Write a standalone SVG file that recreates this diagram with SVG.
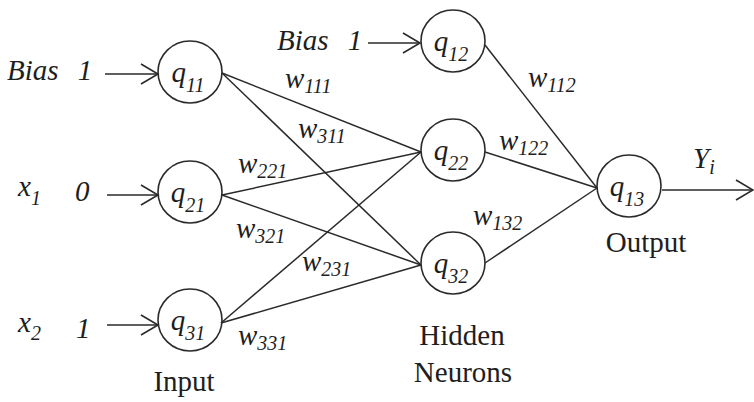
<svg xmlns="http://www.w3.org/2000/svg" width="754" height="402" viewBox="0 0 754 402">
<defs>
<marker id="arr" viewBox="0 0 20 22" refX="18" refY="11" markerWidth="20" markerHeight="22" markerUnits="userSpaceOnUse" orient="auto">
<path d="M1,1 L18,11 L1,21" fill="none" stroke="#2a2a2a" stroke-width="1.6"/>
</marker>
<style>
.ring{fill:none;stroke:#2a2a2a;stroke-width:1.6}
.edge{stroke:#2a2a2a;stroke-width:1.5;fill:none}
.feed{stroke:#2a2a2a;stroke-width:1.6;fill:none;marker-end:url(#arr)}
</style>
</defs>
<rect width="754" height="402" fill="#fff"/>
<g id="connectors">
<path class="edge" d="M222,73 L421,152"/>
<path class="edge" d="M222,73 L421,265"/>
<path class="edge" d="M222,195 L421,152"/>
<path class="edge" d="M222,195 L421,265"/>
<path class="edge" d="M221,323 L421,152"/>
<path class="edge" d="M221,323 L421,265"/>
<path class="edge" d="M485,45 L597,188"/>
<path class="edge" d="M485,152 L597,188"/>
<path class="edge" d="M485,263 L597,188"/>
<path class="feed" d="M105,74 L158,74"/>
<path class="feed" d="M107,195 L158,195"/>
<path class="feed" d="M107,325 L158,325"/>
<path class="feed" d="M368,43 L420,43"/>
<path class="feed" d="M662,190 L753,190"/>
</g>
<g id="weights" fill="#1e1e1e">
<text style="font-family:'Liberation Serif','Times New Roman',serif;font-size:29px;font-style:italic" x="285" y="88">w<tspan style="font-size:20px" dy="5">111</tspan></text>
<text style="font-family:'Liberation Serif','Times New Roman',serif;font-size:29px;font-style:italic" x="298" y="138">w<tspan style="font-size:20px" dy="5">311</tspan></text>
<text style="font-family:'Liberation Serif','Times New Roman',serif;font-size:29px;font-style:italic" x="238" y="173">w<tspan style="font-size:20px" dy="5">221</tspan></text>
<text style="font-family:'Liberation Serif','Times New Roman',serif;font-size:29px;font-style:italic" x="236" y="238">w<tspan style="font-size:20px" dy="5">321</tspan></text>
<text style="font-family:'Liberation Serif','Times New Roman',serif;font-size:29px;font-style:italic" x="302" y="271">w<tspan style="font-size:20px" dy="5">231</tspan></text>
<text style="font-family:'Liberation Serif','Times New Roman',serif;font-size:29px;font-style:italic" x="238" y="345">w<tspan style="font-size:20px" dy="5">331</tspan></text>
<text style="font-family:'Liberation Serif','Times New Roman',serif;font-size:29px;font-style:italic" x="528" y="87">w<tspan style="font-size:20px" dy="5">112</tspan></text>
<text style="font-family:'Liberation Serif','Times New Roman',serif;font-size:29px;font-style:italic" x="499" y="150">w<tspan style="font-size:20px" dy="5">122</tspan></text>
<text style="font-family:'Liberation Serif','Times New Roman',serif;font-size:29px;font-style:italic" x="473" y="225">w<tspan style="font-size:20px" dy="5">132</tspan></text>
</g>
<g id="inputs" fill="#1e1e1e">
<text style="font-family:'Liberation Serif','Times New Roman',serif;font-size:29px;font-style:italic" x="7" y="80">Bias <tspan dx="12">1</tspan></text>
<text style="font-family:'Liberation Serif','Times New Roman',serif;font-size:29px;font-style:italic" x="277" y="50">Bias <tspan dx="12">1</tspan></text>
<text style="font-family:'Liberation Serif','Times New Roman',serif;font-size:29px;font-style:italic" x="18" y="196">x<tspan style="font-size:20px" dy="9">1</tspan> <tspan x="75" dy="-4">0</tspan></text>
<text style="font-family:'Liberation Serif','Times New Roman',serif;font-size:29px;font-style:italic" x="18" y="332">x<tspan style="font-size:20px" dy="8">2</tspan> <tspan x="76" dy="-2">1</tspan></text>
<text style="font-family:'Liberation Serif','Times New Roman',serif;font-size:29px;font-style:italic" x="693" y="168">Y<tspan style="font-size:20px" dy="6">i</tspan></text>
</g>
<g id="q11"><ellipse class="ring" cx="190" cy="72" rx="32" ry="31"/><text style="font-family:'Liberation Serif','Times New Roman',serif;font-size:29px;font-style:italic" fill="#1e1e1e" x="188" y="82" text-anchor="middle">q<tspan style="font-size:20px" dy="10">11</tspan></text></g>
<g id="q21"><ellipse class="ring" cx="190" cy="192" rx="32" ry="31"/><text style="font-family:'Liberation Serif','Times New Roman',serif;font-size:29px;font-style:italic" fill="#1e1e1e" x="188" y="202" text-anchor="middle">q<tspan style="font-size:20px" dy="10">21</tspan></text></g>
<g id="q31"><ellipse class="ring" cx="190" cy="320" rx="32" ry="31"/><text style="font-family:'Liberation Serif','Times New Roman',serif;font-size:29px;font-style:italic" fill="#1e1e1e" x="188" y="330" text-anchor="middle">q<tspan style="font-size:20px" dy="10">31</tspan></text></g>
<g id="q12"><ellipse class="ring" cx="453" cy="41" rx="32" ry="31"/><text style="font-family:'Liberation Serif','Times New Roman',serif;font-size:29px;font-style:italic" fill="#1e1e1e" x="451" y="51" text-anchor="middle">q<tspan style="font-size:20px" dy="10">12</tspan></text></g>
<g id="q22"><ellipse class="ring" cx="453" cy="150" rx="32" ry="31"/><text style="font-family:'Liberation Serif','Times New Roman',serif;font-size:29px;font-style:italic" fill="#1e1e1e" x="451" y="160" text-anchor="middle">q<tspan style="font-size:20px" dy="10">22</tspan></text></g>
<g id="q32"><ellipse class="ring" cx="453" cy="263" rx="32" ry="31"/><text style="font-family:'Liberation Serif','Times New Roman',serif;font-size:29px;font-style:italic" fill="#1e1e1e" x="451" y="273" text-anchor="middle">q<tspan style="font-size:20px" dy="10">32</tspan></text></g>
<g id="q13"><ellipse class="ring" cx="629" cy="186" rx="32" ry="31"/><text style="font-family:'Liberation Serif','Times New Roman',serif;font-size:29px;font-style:italic" fill="#1e1e1e" x="627" y="196" text-anchor="middle">q<tspan style="font-size:20px" dy="10">13</tspan></text></g>
<g id="layer-labels" fill="#1e1e1e">
<text style="font-family:'Liberation Serif','Times New Roman',serif;font-size:29px" x="184" y="391" text-anchor="middle">Input</text>
<text style="font-family:'Liberation Serif','Times New Roman',serif;font-size:29px" x="462" y="345" text-anchor="middle">Hidden</text>
<text style="font-family:'Liberation Serif','Times New Roman',serif;font-size:29px" x="463" y="382" text-anchor="middle">Neurons</text>
<text style="font-family:'Liberation Serif','Times New Roman',serif;font-size:29px" x="646" y="252" text-anchor="middle">Output</text>
</g>
</svg>
